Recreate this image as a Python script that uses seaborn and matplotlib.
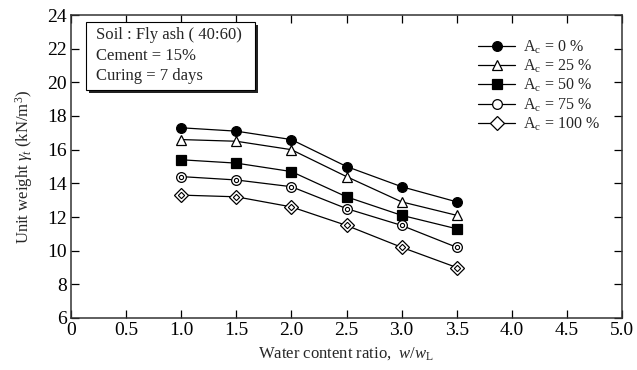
import matplotlib
matplotlib.use("Agg")
import matplotlib.pyplot as plt
import seaborn as sns
import pandas as pd
from matplotlib.patches import Rectangle

ratio = [1.0, 1.5, 2.0, 2.5, 3.0, 3.5]
ac0 = [17.3, 17.1, 16.6, 15.0, 13.8, 12.9]
ac25 = [16.6, 16.5, 16.0, 14.4, 12.9, 12.1]
ac50 = [15.4, 15.2, 14.7, 13.2, 12.1, 11.3]
ac75 = [14.4, 14.2, 13.8, 12.5, 11.5, 10.2]
ac100 = [13.3, 13.2, 12.6, 11.5, 10.2, 9.0]
labels = [r"A$_\mathrm{c}$ = 0 %", r"A$_\mathrm{c}$ = 25 %", r"A$_\mathrm{c}$ = 50 %",
          r"A$_\mathrm{c}$ = 75 %", r"A$_\mathrm{c}$ = 100 %"]
xticks = [0, 0.5, 1.0, 1.5, 2.0, 2.5, 3.0, 3.5, 4.0, 4.5, 5.0]
xticklabels = ["0", "0.5", "1.0", "1.5", "2.0", "2.5", "3.0", "3.5", "4.0", "4.5", "5.0"]
yticks = [6, 8, 10, 12, 14, 16, 18, 20, 22, 24]

sns.set_style("ticks")
plt.rcParams["font.family"] = ["Liberation Serif", "DejaVu Serif"]
plt.rcParams["mathtext.fontset"] = "custom"
plt.rcParams["mathtext.rm"] = "Liberation Serif"
plt.rcParams["mathtext.it"] = "Liberation Serif:italic"

rows = []
for lab, vals in zip(labels, [ac0, ac25, ac50, ac75, ac100]):
    for x, v in zip(ratio, vals):
        rows.append({"x": x, "y": v, "s": lab})
df = pd.DataFrame(rows)

fig = plt.figure(figsize=(6.37, 3.70), dpi=100)
ax = fig.add_axes([71 / 637, 1 - 318 / 370, 551 / 637, 303 / 370])

ms = 7
styles = [
    dict(marker="o", mfc="black", mec="black"),
    dict(marker="^", mfc="white", mec="black"),
    dict(marker="s", mfc="black", mec="black"),
    dict(marker="o", mfc="white", mec="black"),
    dict(marker="D", mfc="white", mec="black"),
]
handles = []
for lab, st in zip(labels, styles):
    sub = df[df.s == lab]
    sns.lineplot(data=sub, x="x", y="y", ax=ax, color="black", lw=0.9,
                 marker=st["marker"], markersize=ms,
                 markerfacecolor=st["mfc"], markeredgecolor=st["mec"],
                 markeredgewidth=0.9, label=lab, legend=False)
    h, = ax.plot([], [], color="black", lw=0.9, marker=st["marker"], ms=ms,
                 mfc=st["mfc"], mec=st["mec"], mew=0.9)
    handles.append(h)
    if lab == labels[3]:
        ax.plot(ratio, ac75, ls="none", marker="o", ms=3.0, mfc="white", mec="black", mew=0.8, zorder=5)
    if lab == labels[4]:
        ax.plot(ratio, ac100, ls="none", marker="D", ms=3.2, mfc="white", mec="black", mew=0.8, zorder=5)

ax.set_xlim(0, 5)
ax.set_ylim(6, 24)
ax.set_xticks(xticks)
ax.set_xticklabels(xticklabels)
ax.set_yticks(yticks)
ax.tick_params(direction="in", top=True, right=True, labelsize=14, length=6, width=0.9,
               colors="black", pad=3)
for sp in ax.spines.values():
    sp.set_linewidth(1.1)
    sp.set_color("#333333")
ax.set_xlabel(r"Water content ratio,  $w$/$w$$_\mathrm{L}$", fontsize=12, labelpad=4)
ax.set_ylabel(r"Unit weight $\gamma_t$ (kN/m$^3$)", fontsize=12, labelpad=9)

leg = ax.legend(handles=handles, labels=labels, loc="upper left",
                bbox_to_anchor=(472 / 637, 1 - 32 / 370), bbox_transform=fig.transFigure,
                frameon=False, fontsize=11.5, handlelength=2.3, labelspacing=0.12, handletextpad=0.5,
                borderaxespad=0)

# annotation box with shadow
fig.patches.append(Rectangle((89 / 637, 1 - 93 / 370), 169 / 637, 68 / 370, transform=fig.transFigure,
                             facecolor="#222222", edgecolor="none", zorder=3))
fig.patches.append(Rectangle((86 / 637, 1 - 90 / 370), 169 / 637, 68 / 370, transform=fig.transFigure,
                             facecolor="white", edgecolor="black", lw=0.8, zorder=4))
fig.text(96 / 637, 1 - 35 / 370, "Soil : Fly ash ( 40:60)", fontsize=12, va="center", zorder=5)
fig.text(96 / 637, 1 - 56 / 370, "Cement = 15%", fontsize=12, va="center", zorder=5)
fig.text(96 / 637, 1 - 76 / 370, "Curing = 7 days", fontsize=12, va="center", zorder=5)

fig.savefig("out.png", dpi=100)
